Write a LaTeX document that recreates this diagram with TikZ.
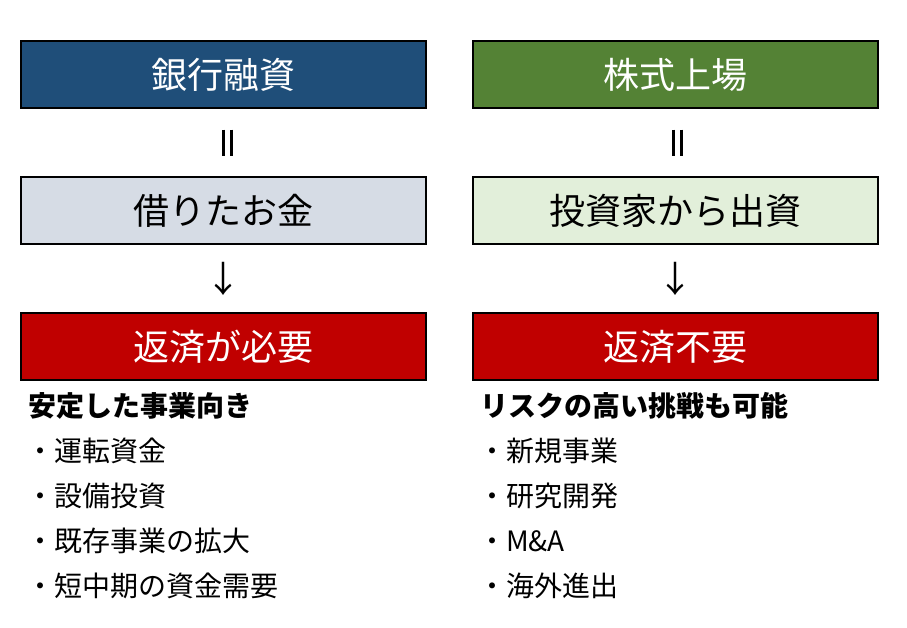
\documentclass[tikz,border=0pt]{standalone}
\usepackage{fontspec}
\setmainfont{Noto Sans CJK JP}
\usepackage{xcolor}
\usepackage{tikz}
\usetikzlibrary{positioning,calc}
\definecolor{bankblue}{HTML}{1F4E79}
\definecolor{stockgreen}{HTML}{548235}
\definecolor{payred}{HTML}{C00000}
\definecolor{paleblue}{HTML}{D6DCE5}
\definecolor{palegreen}{HTML}{E2EFDA}
\begin{document}
\begin{tikzpicture}[x=1pt,y=-1pt,
	box/.style={draw=black, line width=2pt, minimum width=405pt, minimum height=67pt, font=\fontsize{36}{40}\selectfont, inner sep=0pt},
	sym/.style={font=\fontsize{36}{40}\selectfont, inner sep=0pt},
	eqsym/.style={minimum width=14pt, minimum height=26pt, inner sep=0pt,
		path picture={\draw[line width=3.2pt] ([xshift=-4pt]path picture bounding box.north) -- ([xshift=-4pt]path picture bounding box.south)
			([xshift=4pt]path picture bounding box.north) -- ([xshift=4pt]path picture bounding box.south);}},
	head/.style={anchor=west, inner sep=0pt, font=\fontsize{28}{32}\selectfont\bfseries, text height=0.88em, text depth=0.12em},
	item/.style={anchor=west, inner sep=0pt, font=\fontsize{28}{32}\selectfont, text height=0.88em, text depth=0.12em}]
	\useasboundingbox[fill=white] (0,0) rectangle (907,627);
	% left column
	\node[box, fill=bankblue, text=white] (bank) at (223.5,74.5) {銀行融資};
	\node[box, fill=paleblue] (borrow) at (223.5,210.5) {借りたお金};
	\node[box, fill=payred, text=white] (repay) at (223.5,346.5) {返済が必要};
	\node[eqsym, xshift=4pt] (eqL) at ($(bank.south)!0.5!(borrow.north)$) {};
	\node[sym] (arL) at ($(borrow.south)!0.5!(repay.north)$) {↓};
	\node[head] (hL) at (28,413) {安定した事業向き};
	\foreach \txt [count=\i] in {運転資金,設備投資,既存事業の拡大,短中期の資金需要}
		\node[item] (l\i) at (26,{413+45*\i}) {・\txt};
	% right column
	\node[box, fill=stockgreen, text=white] (ipo) at (675.5,74.5) {株式上場};
	\node[box, fill=palegreen] (invest) at (675.5,210.5) {投資家から出資};
	\node[box, fill=payred, text=white] (norepay) at (675.5,346.5) {返済不要};
	\node[eqsym, xshift=2pt] (eqR) at ($(ipo.south)!0.5!(invest.north)$) {};
	\node[sym] (arR) at ($(invest.south)!0.5!(norepay.north)$) {↓};
	\node[head] (hR) at (480,413) {リスクの高い挑戦も可能};
	\foreach \txt [count=\i] in {新規事業,研究開発,M\&A,海外進出}
		\node[item] (r\i) at (478,{413+45*\i}) {・\txt};
\end{tikzpicture}
\end{document}
